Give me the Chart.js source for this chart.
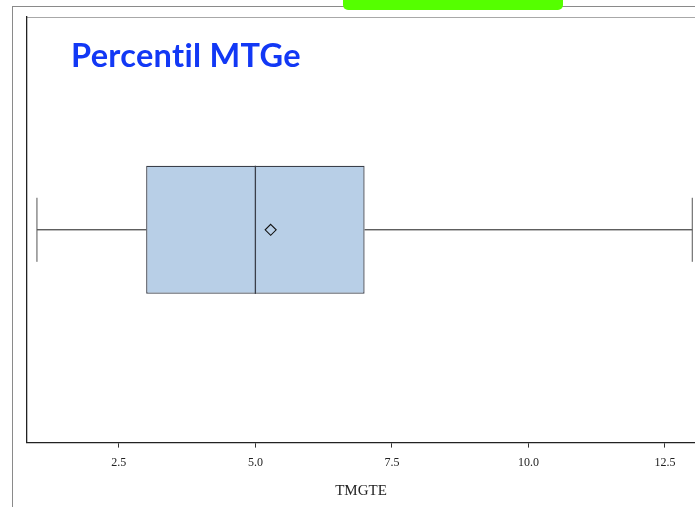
<!DOCTYPE html>
<html>
<head>
<meta charset="utf-8">
<script src="https://cdn.jsdelivr.net/npm/chart.js@4.4.1/dist/chart.umd.min.js"></script>
<style>
  html, body { margin: 0; padding: 0; background: #ffffff; }
  #wrap { position: relative; width: 695px; height: 507px; overflow: hidden; }
  #chart { position: absolute; left: 0; top: 0; }
  .frame-v { position: absolute; left: 12px; top: 6px; width: 1px; height: 501px; background: #8a8a8a; }
  .frame-h { position: absolute; left: 12px; top: 6px; width: 683px; height: 1px; background: #8a8a8a; }
  .inner-top { position: absolute; left: 26px; top: 17px; width: 669px; height: 1px; background: #a8a8a8; }
  .tab { position: absolute; left: 343px; top: -6px; width: 220px; height: 16px; background: #55ff00; border-radius: 5px; }
  .heading { position: absolute; left: 71px; top: 35px; font-family: Lato, "Open Sans", sans-serif; font-weight: 700;
             font-size: 32.5px; letter-spacing: 0.3px; font-variant-ligatures: none; color: #1238f5; white-space: nowrap; }
</style>
</head>
<body>
<div id="wrap">
  <div class="frame-v"></div>
  <div class="frame-h"></div>
  <div class="inner-top"></div>
  <div class="tab"></div>
  <canvas id="chart" width="695" height="507"></canvas>
  <div class="heading">Percentil MTGe</div>
</div>
<script>
// Box plot summary for TMGTE
const categories = ['TMGTE'];
const minValues = [1];
const q1Values = [3];
const medianValues = [5];
const q3Values = [7];
const maxValues = [13];
const meanValues = [5.28];
const tickValues = [2.5, 5, 7.5, 10, 12.5];

// Whiskers, median line and mean marker drawn on top of the box
const boxExtras = {
  id: 'boxExtras',
  afterDatasetsDraw(chart) {
    const ctx = chart.ctx;
    const xs = chart.scales.x;
    const meta = chart.getDatasetMeta(0);
    meta.data.forEach((bar, i) => {
      const y = bar.y;
      const h = bar.height;
      const pMin = xs.getPixelForValue(minValues[i]);
      const pQ1 = xs.getPixelForValue(q1Values[i]);
      const pMed = xs.getPixelForValue(medianValues[i]);
      const pQ3 = xs.getPixelForValue(q3Values[i]);
      const pMax = xs.getPixelForValue(maxValues[i]);
      const pMean = xs.getPixelForValue(meanValues[i]);
      ctx.save();
      ctx.strokeStyle = '#1a1a1a';
      ctx.lineWidth = 1;
      ctx.beginPath();
      ctx.moveTo(pMin, y); ctx.lineTo(pQ1, y);
      ctx.moveTo(pQ3, y); ctx.lineTo(pMax, y);
      ctx.stroke();
      ctx.strokeStyle = '#555555';
      ctx.beginPath();
      ctx.moveTo(pMin, y - h / 4); ctx.lineTo(pMin, y + h / 4);
      ctx.moveTo(pMax, y - h / 4); ctx.lineTo(pMax, y + h / 4);
      ctx.stroke();
      ctx.strokeStyle = '#3a3f4a';
      ctx.lineWidth = 1.3;
      ctx.beginPath();
      ctx.moveTo(pMed, y - h / 2); ctx.lineTo(pMed, y + h / 2);
      ctx.stroke();
      const d = 5.5;
      ctx.strokeStyle = '#111111';
      ctx.lineWidth = 1.1;
      ctx.beginPath();
      ctx.moveTo(pMean, y - d); ctx.lineTo(pMean + d, y);
      ctx.lineTo(pMean, y + d); ctx.lineTo(pMean - d, y);
      ctx.closePath();
      ctx.stroke();
      ctx.restore();
    });
  }
};

new Chart(document.getElementById('chart'), {
  type: 'bar',
  data: {
    labels: categories,
    datasets: [{
      data: q1Values.map((q, i) => [q, q3Values[i]]),
      backgroundColor: '#b8cfe7',
      borderColor: '#3a3f4a',
      borderWidth: 1.3,
      borderSkipped: false,
      barPercentage: 0.301,
      categoryPercentage: 1
    }]
  },
  options: {
    indexAxis: 'y',
    responsive: false,
    animation: false,
    layout: { padding: { left: 19, top: 17, right: 0, bottom: 5 } },
    plugins: { legend: { display: false }, tooltip: { enabled: false }, title: { display: false } },
    scales: {
      y: {
        ticks: { display: false },
        grid: { display: false },
        border: { display: true, color: '#222222', width: 1.3 }
      },
      x: {
        min: 0.818,
        max: 13.05,
        afterBuildTicks(scale) { scale.ticks = tickValues.map(v => ({ value: v })); },
        ticks: {
          callback: v => Number(v).toFixed(1),
          color: '#222222',
          padding: 8,
          maxRotation: 0,
          font: { family: '"Liberation Serif", "DejaVu Serif", serif', size: 12 }
        },
        grid: { drawOnChartArea: false, drawTicks: true, tickLength: 5, color: '#333333' },
        border: { display: true, color: '#222222', width: 1.3 },
        title: {
          display: true,
          text: 'TMGTE',
          color: '#222222',
          padding: { top: 4, bottom: 2 },
          font: { family: '"Liberation Serif", "DejaVu Serif", serif', size: 15 }
        }
      }
    }
  },
  plugins: [boxExtras]
});
</script>
</body>
</html>
